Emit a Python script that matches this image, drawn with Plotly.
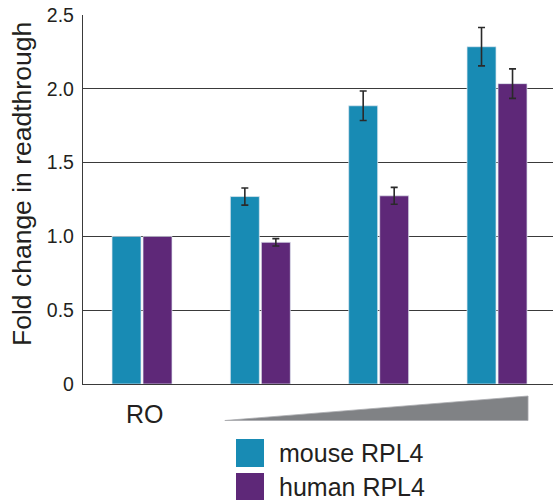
import plotly.graph_objects as go

# ---- data ----
groups = [0, 1, 2, 3]                  # RO, then increasing RPL4 dose
series_names = ["mouse RPL4", "human RPL4"]
mouse_vals = [1.0, 1.27, 1.885, 2.285]
human_vals = [1.0, 0.96, 1.275, 2.035]
mouse_err = [None, 0.058, 0.10, 0.13]
human_err = [None, 0.025, 0.057, 0.10]
y_ticks = [0, 0.5, 1.0, 1.5, 2.0, 2.5]
y_tick_labels = ["0", "0.5", "1.0", "1.5", "2.0", "2.5"]
x_label = "RO"
y_title = "Fold change in readthrough"

colors = ["#188BB4", "#5E2878"]
FONT = "Liberation Sans, Arial, Helvetica, sans-serif"
TXT = "#231f20"


def err_array(errs):
    # "NaN" entries -> no error bar drawn for that point
    return [e if e is not None else "NaN" for e in errs]


fig = go.Figure()
for name, vals, errs, col in zip(series_names, [mouse_vals, human_vals],
                                 [mouse_err, human_err], colors):
    fig.add_trace(go.Bar(
        x=groups, y=vals, name=name,
        marker=dict(color=col, line=dict(color="rgba(225,232,240,0.9)", width=0.8)),
        error_y=dict(type="data", array=err_array(errs), visible=True,
                     color="#2a2a2a", thickness=1.6, width=3.5),
        showlegend=False,
    ))

# plot geometry (px): left 83, right 553, top 15, bottom 384
W, H = 553, 500
L, R, T, B = 83, 0, 15, 116
plot_w = W - L - R
plot_h = H - T - B


def py(p):  # pixel y -> paper y
    return (H - B - p) / plot_h


def px(p):  # pixel x -> paper x
    return (p - L) / plot_w


fig.update_layout(
    width=W, height=H,
    margin=dict(l=L, r=R, t=T, b=B, pad=0),
    paper_bgcolor="white", plot_bgcolor="white",
    barmode="group", bargap=0.476, bargroupgap=0.065,
    font=dict(family=FONT, color=TXT),
    showlegend=False,
)
fig.update_xaxes(
    range=[-0.4986, 3.473], showticklabels=False, ticks="",
    showgrid=False, zeroline=False,
    showline=True, linecolor="#3a3a3a", linewidth=1.3,
)
fig.update_yaxes(
    range=[0, 2.5], tickvals=y_ticks, ticktext=y_tick_labels,
    tickfont=dict(size=19.5, family=FONT, color=TXT), ticks="",
    ticklabelstandoff=4,
    showgrid=True, gridcolor="#3a3a3a", gridwidth=1.3, zeroline=False,
    showline=True, linecolor="#3a3a3a", linewidth=1.3,
)

# y-axis title (placed as rotated annotation to match reference offset)
fig.add_annotation(x=px(22), y=py(184), xref="paper", yref="paper",
                   text=y_title, textangle=-90, showarrow=False,
                   xanchor="center", yanchor="middle",
                   font=dict(size=26.5, family=FONT, color=TXT))

# "RO" label under first group
fig.add_annotation(x=groups[0], y=py(413.5), xref="x", yref="paper",
                   text=x_label, showarrow=False, xanchor="center", yanchor="middle",
                   xshift=2.5, font=dict(size=25, family=FONT, color=TXT))

# increasing-dose wedge
x0 = groups[1] + (225 - 260.5) / 118.3
x1 = groups[3] + (528 - 497) / 118.3
fig.add_shape(type="path", xref="x", yref="paper",
              path=f"M {x0},{py(420.5)} L {x1},{py(396)} L {x1},{py(420.5)} Z",
              fillcolor="#808285", line=dict(color="#a9abae", width=0.8))

# manual legend
for i, (name, col) in enumerate(zip(series_names, colors)):
    top = 439 + i * 34
    fig.add_shape(type="rect", xref="paper", yref="paper",
                  x0=px(236), x1=px(264), y0=py(top + 28), y1=py(top),
                  fillcolor=col, line=dict(width=0))
    fig.add_annotation(x=px(277), y=py(top + 14), xref="paper", yref="paper",
                       text=name, showarrow=False, xanchor="left", yanchor="middle",
                       font=dict(size=25, family=FONT, color=TXT))

fig.write_html("out.html")
